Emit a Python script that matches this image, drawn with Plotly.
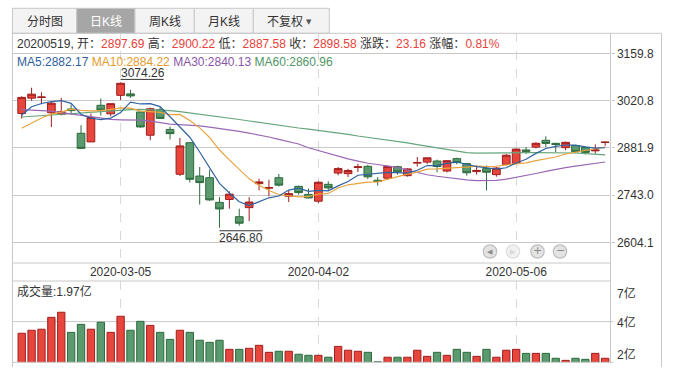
import plotly.graph_objects as go

W, H = 673, 377
def px(x): return x / W
def py(y): return 1 - y / H

# ---------------- data ----------------
dates = ["2020-02-20","2020-02-21","2020-02-24","2020-02-25","2020-02-26","2020-02-27","2020-02-28",
         "2020-03-02","2020-03-03","2020-03-04","2020-03-05","2020-03-06","2020-03-09","2020-03-10",
         "2020-03-11","2020-03-12","2020-03-13","2020-03-16","2020-03-17","2020-03-18","2020-03-19",
         "2020-03-20","2020-03-23","2020-03-24","2020-03-25","2020-03-26","2020-03-27","2020-03-30",
         "2020-03-31","2020-04-01","2020-04-02","2020-04-03","2020-04-07","2020-04-08","2020-04-09",
         "2020-04-10","2020-04-13","2020-04-14","2020-04-15","2020-04-16","2020-04-17","2020-04-20",
         "2020-04-21","2020-04-22","2020-04-23","2020-04-24","2020-04-27","2020-04-28","2020-04-29",
         "2020-04-30","2020-05-06","2020-05-07","2020-05-08","2020-05-11","2020-05-12","2020-05-13",
         "2020-05-14","2020-05-15","2020-05-18","2020-05-19"]
opens = [2982.6,3028.0,3029.8,2985.0,2980.0,2996.0,2924.6,2899.3,3006.9,2981.8,3036.2,3040.5,2987.2,2918.9,
         2994.0,2936.0,2804.2,2897.0,2799.0,2794.0,2721.5,2730.0,2679.4,2706.0,2776.5,2763.3,2794.0,2739.7,
         2768.6,2745.0,2725.0,2774.5,2807.7,2806.0,2824.0,2827.5,2786.5,2792.6,2826.6,2800.0,2837.0,2840.0,
         2843.0,2813.6,2850.0,2835.4,2812.0,2820.7,2803.0,2833.3,2836.0,2875.5,2884.0,2904.0,2895.0,2882.5,
         2888.4,2882.5,2873.0,2897.69]
highs = [3033.5,3058.7,3045.0,3017.0,3029.0,3009.0,2948.5,2982.5,3026.8,3012.5,3074.26,3052.4,2989.2,3000.3,
         3002.0,2944.5,2910.9,2897.5,2825.5,2817.7,2737.0,2754.0,2703.0,2737.0,2791.0,2788.0,2805.0,2757.0,
         2771.0,2762.0,2784.0,2783.3,2825.4,2820.0,2835.0,2832.0,2796.0,2830.0,2829.0,2822.0,2855.0,2853.0,
         2847.0,2845.0,2853.0,2836.0,2830.0,2830.0,2826.0,2864.0,2879.5,2884.0,2898.0,2915.7,2897.0,2900.0,
         2890.0,2885.5,2892.0,2900.22]
lows = [2967.8,3020.4,3010.0,2943.0,2977.0,2980.0,2878.5,2899.0,2976.5,2974.4,3022.5,3028.7,2940.7,2904.1,
        2966.5,2906.5,2799.1,2780.0,2715.0,2726.0,2646.80,2703.0,2653.0,2666.5,2757.0,2739.0,2768.0,2722.5,
        2744.0,2733.0,2719.0,2757.0,2801.0,2796.0,2810.7,2790.0,2771.0,2790.0,2803.0,2797.0,2827.0,2834.0,
        2810.0,2809.6,2833.0,2800.0,2803.0,2756.8,2797.0,2830.0,2834.0,2864.0,2880.0,2884.3,2869.6,2874.5,
        2866.0,2863.0,2864.8,2887.58]
closes = [3030.15,3039.67,3031.23,3013.05,2987.93,2991.33,2880.30,2970.93,2992.90,3011.67,3071.68,3034.51,
          2943.29,2996.76,2968.52,2923.49,2887.43,2789.25,2779.64,2728.76,2702.13,2745.62,2660.17,2722.44,
          2781.59,2764.91,2772.20,2747.21,2750.30,2734.52,2780.64,2763.99,2820.76,2815.37,2825.90,2796.63,
          2783.05,2827.28,2811.17,2819.94,2838.49,2852.55,2827.01,2843.98,2838.50,2808.53,2815.49,2810.02,
          2822.44,2860.08,2878.14,2871.52,2895.34,2894.80,2891.56,2898.05,2870.34,2868.46,2875.42,2898.58]
# closes of the nine sessions before the first candle (needed for MA5 / MA10)
prior_closes = [2875.96,2890.49,2901.67,2926.90,2906.07,2917.01,2983.62,2984.97,2975.40]
# MA30 / MA60
ma30 = [2994.0,2992.9,2992.0,2989.6,2985.5,2981.4,2977.5,2973.4,2969.6,2965.5,2964.3,2963.7,2963.1,2960.2,
        2955.2,2951.7,2949.9,2948.4,2946.6,2942.8,2939.0,2935.2,2930.2,2924.9,2919.9,2913.7,2906.9,2899.9,
        2893.1,2882.2,2873.7,2865.4,2857.2,2849.2,2842.8,2836.6,2832.8,2828.9,2823.9,2816.3,2808.9,2802.7,
        2798.3,2794.2,2790.1,2787.7,2785.7,2785.7,2786.3,2789.8,2794.8,2800.1,2806.3,2812.4,2818.6,2823.6,
        2828.3,2832.4,2836.3,2840.13]
ma60 = [2972.5,2974.6,2976.7,2978.4,2980.5,2982.3,2984.3,2986.7,2989.3,2991.4,2992.9,2994.0,2995.2,2994.0,
        2992.9,2991.1,2988.1,2984.6,2980.8,2977.0,2973.1,2969.3,2965.2,2960.8,2956.4,2951.6,2946.9,2943.4,
        2940.2,2936.9,2933.4,2930.2,2926.6,2921.3,2916.6,2912.5,2908.7,2905.1,2902.2,2896.6,2891.3,2886.6,
        2881.9,2877.2,2872.5,2867.8,2866.3,2866.9,2867.8,2867.8,2867.8,2867.8,2867.8,2867.8,2867.8,2867.8,
        2866.6,2865.1,2863.4,2860.96]
# volume, in 亿 (hundred million lots)
volumes = [3.40,3.57,3.63,4.31,4.60,3.45,3.91,3.63,4.03,3.45,4.37,3.57,4.08,3.85,3.45,3.05,3.57,3.45,3.00,
           2.88,3.00,2.48,2.48,2.54,2.71,2.31,2.37,2.37,2.20,2.14,2.14,2.03,2.65,2.43,2.37,2.31,1.77,2.03,
           2.03,2.03,2.43,2.08,2.31,2.14,2.48,2.31,2.08,2.48,2.03,2.43,2.48,2.25,2.25,2.25,1.97,1.85,1.97,
           1.91,2.25,1.97]
price_ticks = [3159.8, 3020.8, 2881.9, 2743.0, 2604.1]
date_ticks = ["2020-03-05", "2020-04-02", "2020-05-06"]
vol_tick_labels = ["7亿", "4亿", "2亿"]
vol_tick_pos = [5.70, 4.00, 2.16]
tabs = ["分时图", "日K线", "周K线", "月K线", "不复权"]

# ---------------- derived ----------------
k = len(prior_closes)
allc = prior_closes + closes
n = len(closes)
ma5 = [sum(allc[k + i - 4:k + i + 1]) / 5 for i in range(n)]
ma10 = [sum(allc[k + i - 9:k + i + 1]) / 10 for i in range(n)]

FONT = "Liberation Sans, Arial, Noto Sans CJK SC, sans-serif"
RED_F, RED_L = "#e6463c", "#a01e1e"
GRN_F, GRN_L = "#5b9a6f", "#2c6b3b"
C5, C10, C30, C60 = "#2f63a2", "#e9a43f", "#9a68b6", "#66a67c"
T5, T10, T30, T60 = "#2f5f9e", "#e39a2e", "#8a55a6", "#4f9566"
GRID = "#c8c8c8"
up = [c >= o for o, c in zip(opens, closes)]

fig = go.Figure()
for vals, col in [(ma60, C60), (ma30, C30), (ma10, C10), (ma5, C5)]:
    fig.add_trace(go.Scatter(x=dates, y=vals, mode="lines", line=dict(color=col, width=1.2),
                             hoverinfo="skip", showlegend=False, xaxis="x", yaxis="y"))
fig.add_trace(go.Candlestick(
    x=dates, open=opens, high=highs, low=lows, close=closes,
    increasing=dict(fillcolor=RED_F, line=dict(color=RED_L, width=1)),
    decreasing=dict(fillcolor=GRN_F, line=dict(color=GRN_L, width=1)),
    whiskerwidth=0, showlegend=False, hoverinfo="skip", xaxis="x", yaxis="y"))
fig.add_trace(go.Bar(
    x=dates, y=volumes,
    marker=dict(color=[RED_F if u else GRN_F for u in up],
                line=dict(color=[RED_L if u else GRN_L for u in up], width=1)),
    showlegend=False, hoverinfo="skip", xaxis="x2", yaxis="y2"))

xr = [-0.93, 59.54]
y_top_px, y_bot_px = 33.3, 263.0
kpp = (3159.8 - 2604.1) / (242.3 - 53.3)
prange = [3159.8 - (y_bot_px - 53.3) * kpp, 3159.8 + (53.3 - y_top_px) * kpp]
vmin, vscale = 1.74, 17.5
vrange = [vmin, vmin + (362.3 - 281.0) / vscale]
vmid = vmin + (362.3 - 321.6) / vscale

fig.update_layout(
    width=W, height=H, autosize=False, margin=dict(l=0, r=0, t=0, b=0),
    paper_bgcolor="white", plot_bgcolor="white",
    font=dict(family=FONT, size=12, color="#333"),
    boxgap=0.22, boxgroupgap=0, bargap=0.26,
    xaxis=dict(domain=[px(12.5), px(610.5)], type="category", categoryorder="array",
               categoryarray=dates, range=xr, tickvals=date_ticks, ticktext=date_ticks,
               showgrid=True, gridcolor="#d9d9d9", griddash="dash", gridwidth=1,
               zeroline=False, showline=False, ticks="", tickfont=dict(size=12, color="#333"),
               rangeslider=dict(visible=False), anchor="y", fixedrange=True),
    yaxis=dict(domain=[py(y_bot_px), py(y_top_px)], range=prange, side="right", anchor="x",
               tickvals=price_ticks, ticktext=[f"{v:.1f}" for v in price_ticks],
               showgrid=True, gridcolor=GRID, gridwidth=1, zeroline=False, showline=False,
               ticks="outside", ticklen=3, tickcolor=GRID, tickfont=dict(size=12, color="#333"),
               fixedrange=True),
    xaxis2=dict(domain=[px(12.5), px(610.5)], type="category", categoryorder="array",
                categoryarray=dates, range=xr, tickvals=date_ticks, showticklabels=False,
                showgrid=True, gridcolor="#d9d9d9", griddash="dash", gridwidth=1,
                zeroline=False, showline=False, ticks="", anchor="y2", matches="x", fixedrange=True),
    yaxis2=dict(domain=[py(362.3), py(281.0)], range=vrange, side="right", anchor="x2",
                showgrid=False, showticklabels=False, zeroline=False, showline=False, ticks="",
                fixedrange=True),
)

shapes = []
def hline(y, x0, x1, color=GRID, layer="above"):
    shapes.append(dict(type="line", xref="paper", yref="paper", x0=px(x0), x1=px(x1),
                       y0=py(y), y1=py(y), line=dict(color=color, width=1), layer=layer))
def vline(x, y0, y1, color=GRID):
    shapes.append(dict(type="line", xref="paper", yref="paper", x0=px(x), x1=px(x),
                       y0=py(y0), y1=py(y1), line=dict(color=color, width=1)))

# tabs
tab_edges = [12.5, 76.7, 135.0, 194.3, 253.3, 329.3]
for i in range(len(tabs)):
    shapes.append(dict(type="rect", xref="paper", yref="paper",
                       x0=px(tab_edges[i]), x1=px(tab_edges[i + 1]), y0=py(33.3), y1=py(8.3),
                       fillcolor="#a6a6a6" if i == 1 else "#f3f3f3",
                       line=dict(color="#c9c9c9", width=1), layer="below"))
# frame
hline(33.3, 12.5, 661.5)
vline(12.5, 8.3, 367)
vline(661.5, 33.3, 367)
vline(610.5, 33.3, 363)
hline(263.0, 12.5, 610.5)
hline(281.0, 12.5, 610.5)
hline(362.3, 12.5, 613.5)
# volume mid gridline (drawn through the volume axis)
shapes.append(dict(type="line", xref="paper", yref="y2", x0=px(12.5), x1=px(613.5),
                   y0=vmid, y1=vmid, line=dict(color=GRID, width=1), layer="below"))

# high / low markers
i_hi = max(range(n), key=lambda i: highs[i])
i_lo = min(range(n), key=lambda i: lows[i])
shapes.append(dict(type="line", xref="x", yref="y", xsizemode="pixel", ysizemode="pixel",
                   xanchor=i_hi, yanchor=highs[i_hi], x0=0, x1=43, y0=3, y1=3,
                   line=dict(color="#333", width=1)))
shapes.append(dict(type="line", xref="x", yref="y", xsizemode="pixel", ysizemode="pixel",
                   xanchor=i_lo, yanchor=lows[i_lo], x0=0, x1=43, y0=-3, y1=-3,
                   line=dict(color="#333", width=1)))

# navigation buttons
btn_x = [490.0, 513.0, 537.5, 560.0]
btn_y, r = 251.5, 6.7
glyphs = ["◀", "▶", "+", "−"]
for j, cx in enumerate(btn_x):
    dis = (j == 1)
    shapes.append(dict(type="circle", xref="paper", yref="paper",
                       x0=px(cx - r), x1=px(cx + r), y0=py(btn_y + r), y1=py(btn_y - r),
                       fillcolor="#f1f1f1" if dis else "#e3e3e3",
                       line=dict(color="#e0e0e0" if dis else "#bfbfbf", width=1.2)))

ann = []
def text(x, y, s, size=12, color="#333", xanchor="left", family=FONT, **kw):
    ann.append(dict(x=px(x), y=py(y), xref="paper", yref="paper", text=s, showarrow=False,
                    xanchor=xanchor, yanchor="middle", borderpad=0,
                    font=dict(size=size, color=color, family=family), **kw))

for i, t in enumerate(tabs):
    cx = (tab_edges[i] + tab_edges[i + 1]) / 2
    if i == 4:
        text(cx - 6, 22.0, t, size=12, color="#333", xanchor="center")
        text(308.5, 22.0, "▼", size=7, color="#555", xanchor="center", family="DejaVu Sans")
    else:
        text(cx, 22.0, t, size=12, color="white" if i == 1 else "#333", xanchor="center")

RV = "#e8413a"
chg = closes[-1] - closes[-2]
pct = chg / closes[-2] * 100
def rv(v): return f"<span style='color:{RV}'>{v}</span>"
info = (f"{dates[-1].replace('-', '')}, 开：{rv(f'{opens[-1]:.2f}')} 高：{rv(f'{highs[-1]:.2f}')} "
        f"低：{rv(f'{lows[-1]:.2f}')} 收：{rv(f'{closes[-1]:.2f}')} 涨跌：{rv(f'{chg:.2f}')} "
        f"涨幅：{rv(f'{pct:.2f}%')}")
text(16, 43.8, info)
ma_txt = (f"<span style='color:{T5}'>MA5:{ma5[-1]:.2f}</span> "
          f"<span style='color:{T10}'>MA10:{ma10[-1]:.2f}</span> "
          f"<span style='color:{T30}'>MA30:{ma30[-1]:.2f}</span> "
          f"<span style='color:{T60}'>MA60:{ma60[-1]:.2f}</span>")
text(16, 62.0, ma_txt)

ann.append(dict(x=i_hi, y=highs[i_hi], xref="x", yref="y", text=f"{highs[i_hi]:.2f}", showarrow=False,
                xanchor="left", yanchor="bottom", yshift=1, xshift=-1, borderpad=0,
                font=dict(size=12, color="#333", family=FONT)))
ann.append(dict(x=i_lo, y=lows[i_lo], xref="x", yref="y", text=f"{lows[i_lo]:.2f}", showarrow=False,
                xanchor="left", yanchor="top", yshift=-2, xshift=-1, borderpad=0,
                font=dict(size=12, color="#333", family=FONT)))

text(16, 291.7, f"成交量:{volumes[-1]:.2f}亿")
for lab, v in zip(vol_tick_labels, vol_tick_pos):
    ann.append(dict(x=px(615.5), y=v, xref="paper", yref="y2", text=lab, showarrow=False,
                    xanchor="left", yanchor="middle", borderpad=0,
                    font=dict(size=12, color="#333", family=FONT)))

for j, cx in enumerate(btn_x):
    dis = (j == 1)
    g = glyphs[j]
    sz = 7 if j < 2 else 11
    text(cx + (0.3 if j == 1 else -0.3 if j == 0 else 0), btn_y + (0 if j < 2 else -0.5), g, size=sz,
         color="#d8d8d8" if dis else "#8c8c8c", xanchor="center", family="DejaVu Sans")

fig.update_layout(shapes=shapes, annotations=ann)
fig.write_html("out.html", config={"displayModeBar": False},
               post_script="document.body.style.margin='0';document.body.style.overflow='hidden';")
